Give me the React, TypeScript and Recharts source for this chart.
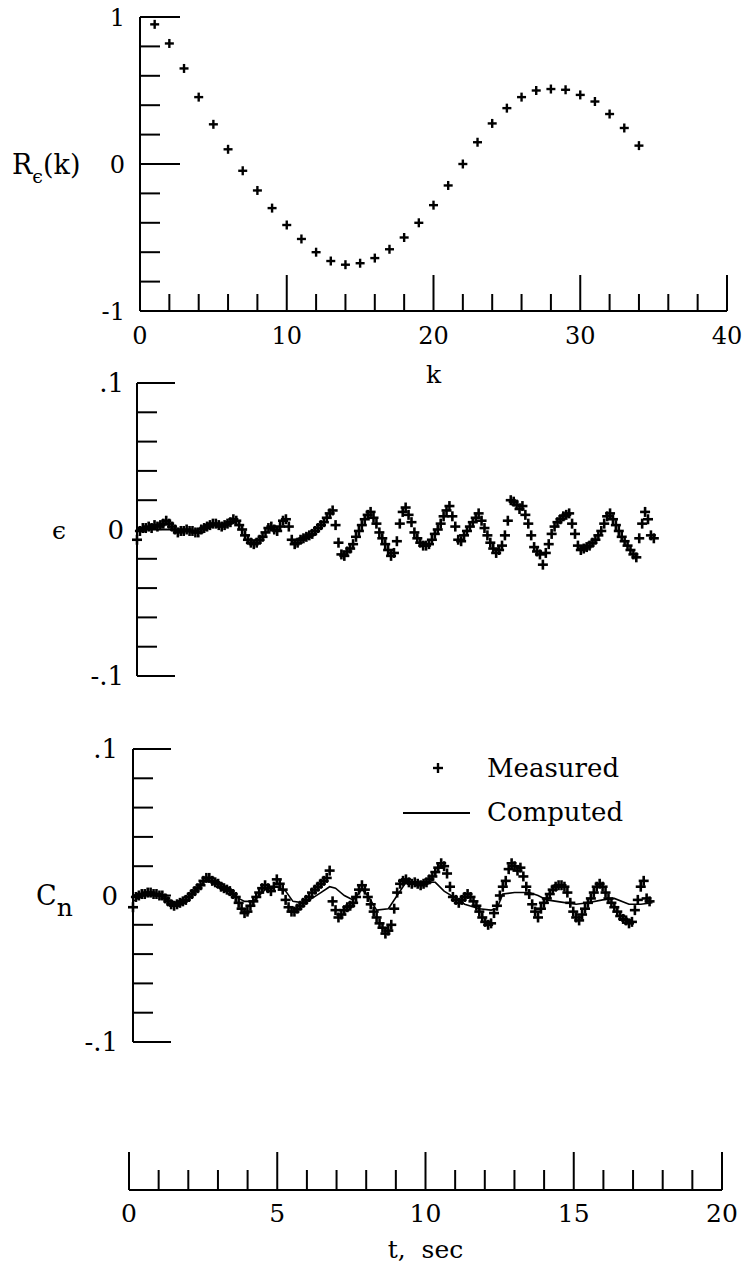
import React from 'react';
import { ScatterChart, Scatter, XAxis, YAxis, Label } from 'recharts';

const FONT = '"DejaVu Serif", "Liberation Serif", serif';

// ---- top panel: autocorrelation of residuals ----
const kValues = [1, 2, 3, 4, 5, 6, 7, 8, 9, 10, 11, 12, 13, 14, 15, 16, 17, 18, 19, 20, 21, 22, 23, 24, 25, 26, 27, 28, 29, 30, 31, 32, 33, 34];
const rValues = [0.95, 0.82, 0.65, 0.455, 0.27, 0.1, -0.046, -0.18, -0.3, -0.415, -0.51, -0.6, -0.66, -0.685, -0.675, -0.64, -0.58, -0.5, -0.4, -0.28, -0.146, 0.0, 0.148, 0.276, 0.38, 0.455, 0.5, 0.51, 0.505, 0.47, 0.425, 0.34, 0.245, 0.125];
const rTicks = [-1, -0.8, -0.6, -0.4, -0.2, 0, 0.2, 0.4, 0.6, 0.8, 1];
const kTicks = [0, 2, 4, 6, 8, 10, 12, 14, 16, 18, 20, 22, 24, 26, 28, 30, 32, 34, 36, 38, 40];
const kLabels = [0, 10, 20, 30, 40];

// ---- time series (sampled every 0.1 s) ----
const SAMPLE_DT = 0.1;
const epsValues = [
  -0.007, -0.001, 0.001, 0.001, 0.002, 0.001, 0.003, 0.002, 0.003, 0.004,
  0.006, 0.004, 0.002, 0.0, -0.002, -0.001, -0.001, 0.0, -0.001, -0.001,
  -0.002, -0.002, 0.0, 0.001, 0.002, 0.003, 0.004, 0.004, 0.003, 0.002,
  0.003, 0.004, 0.005, 0.007, 0.006, 0.003, 0.0, -0.004, -0.007, -0.009,
  -0.01, -0.009, -0.007, -0.005, -0.002, 0.001, 0.002, 0.0, -0.001, 0.002,
  0.006, 0.007, 0.002, -0.007, -0.01, -0.009, -0.007, -0.006, -0.005, -0.004,
  -0.003, -0.001, 0.001, 0.003, 0.005, 0.008, 0.011, 0.013, 0.003, -0.009,
  -0.017, -0.018, -0.015, -0.013, -0.01, -0.005, -0.001, 0.003, 0.007, 0.01,
  0.012, 0.008, 0.004, -0.002, -0.006, -0.01, -0.014, -0.018, -0.016, -0.008,
  0.004, 0.012, 0.015, 0.01, 0.005, -0.002, -0.006, -0.009, -0.011, -0.011,
  -0.01, -0.007, -0.003, 0.0, 0.004, 0.009, 0.013, 0.016, 0.009, 0.002,
  -0.007, -0.008, -0.004, -0.001, 0.002, 0.005, 0.008, 0.011, 0.006, 0.001,
  -0.004, -0.009, -0.013, -0.016, -0.014, -0.011, -0.004, 0.006, 0.02, 0.019,
  0.017, 0.014, 0.016, 0.01, 0.004, -0.004, -0.012, -0.015, -0.017, -0.024,
  -0.016, -0.01, -0.003, 0.002, 0.005, 0.007, 0.009, 0.01, 0.011, 0.004,
  -0.003, -0.011, -0.014, -0.013, -0.012, -0.011, -0.009, -0.007, -0.004, -0.001,
  0.004, 0.009, 0.011, 0.007, 0.003, -0.001, -0.005, -0.008, -0.011, -0.014,
  -0.017, -0.019, -0.006, 0.004, 0.012, 0.007, -0.004, -0.006
];
const cnMeasured = [
  -0.008, -0.001, 0.0, 0.001, 0.001, 0.002, 0.002, 0.001, 0.001, 0.0,
  0.0, -0.002, -0.004, -0.006, -0.007, -0.006, -0.005, -0.004, -0.003, -0.001,
  0.001, 0.003, 0.005, 0.007, 0.01, 0.012, 0.012, 0.01, 0.009, 0.008,
  0.006, 0.005, 0.004, 0.003, 0.001, -0.001, -0.005, -0.009, -0.012, -0.011,
  -0.007, -0.004, -0.001, 0.002, 0.005, 0.007, 0.005, 0.003, 0.006, 0.011,
  0.008, 0.004, -0.003, -0.008, -0.011, -0.011, -0.009, -0.007, -0.005, -0.003,
  -0.001, 0.002, 0.004, 0.006, 0.008, 0.01, 0.012, 0.017, -0.004, -0.01,
  -0.015, -0.013, -0.01, -0.008, -0.007, -0.005, -0.001, 0.004, 0.007, 0.004,
  -0.001, -0.006, -0.011, -0.015, -0.019, -0.022, -0.026, -0.024, -0.02, -0.009,
  0.002, 0.008, 0.01, 0.011, 0.009, 0.008, 0.009, 0.008, 0.007, 0.008,
  0.009, 0.011, 0.013, 0.016, 0.019, 0.022, 0.02, 0.015, 0.006, -0.001,
  -0.003, -0.005, -0.003, -0.001, 0.001, -0.001, -0.004, -0.007, -0.011, -0.015,
  -0.018, -0.02, -0.019, -0.012, -0.007, 0.0, 0.006, 0.01, 0.018, 0.022,
  0.02, 0.017, 0.019, 0.013, 0.006, 0.001, -0.006, -0.011, -0.015, -0.009,
  -0.005, -0.002, 0.001, 0.004, 0.006, 0.007, 0.007, 0.006, 0.002, -0.005,
  -0.011, -0.015, -0.017, -0.013, -0.009, -0.005, -0.002, 0.002, 0.006, 0.008,
  0.006, 0.002, -0.002, -0.005, -0.008, -0.011, -0.014, -0.016, -0.017, -0.019,
  -0.018, -0.01, -0.003, 0.006, 0.01, -0.002, -0.004
];
const cnComputedT = [0, 0.5, 1.0, 1.3, 1.7, 2.1, 2.5, 2.9, 3.3, 3.6, 3.8, 4.1, 4.5, 4.9, 5.2, 5.45, 5.8, 6.1, 6.4, 6.7, 6.9, 7.2, 7.5, 7.8, 8.0, 8.3, 8.7, 9.0, 9.3, 9.7, 10.0, 10.3, 10.6, 11.0, 11.3, 11.8, 12.2, 12.4, 12.6, 13.0, 13.5, 13.8, 14.1, 14.6, 15.1, 15.5, 16.0, 16.4, 16.9, 17.3, 17.7];
const cnComputedV = [-0.004, 0.002, 0.0, -0.005, -0.004, 0.003, 0.011, 0.008, 0.003, -0.002, -0.004, -0.004, 0.004, 0.006, 0.003, -0.004, -0.005, -0.002, 0.002, 0.006, 0.005, 0.0, -0.003, 0.004, 0.0, -0.01, -0.009, 0.0, 0.009, 0.009, 0.009, 0.009, 0.003, -0.002, -0.006, -0.009, -0.01, -0.009, 0.001, 0.002, 0.002, 0.0, -0.003, -0.0045, -0.006, -0.005, -0.003, -0.002, -0.006, -0.006, -0.005];
const smallTicks = [-0.1, -0.08, -0.06, -0.04, -0.02, 0, 0.02, 0.04, 0.06, 0.08, 0.1];
const tTicks = [0, 1, 2, 3, 4, 5, 6, 7, 8, 9, 10, 11, 12, 13, 14, 15, 16, 17, 18, 19, 20];
const tLabels = [0, 5, 10, 15, 20];

const rData = kValues.map((k, i) => ({ x: k, y: rValues[i] }));
const epsData = epsValues.map((v, i) => ({ x: i * SAMPLE_DT, y: v }));
const cnMeasData = cnMeasured.map((v, i) => ({ x: i * SAMPLE_DT, y: v }));
const cnCompData = cnComputedT.map((t, i) => ({ x: t, y: cnComputedV[i] }));
const tAxisAnchor = tLabels.map((t) => ({ x: t, y: 0 }));

const near = (a: number, b: number) => Math.abs(a - b) < 1e-9;

const makePlus = (h: number, sw: number) => (props: any) => {
  const { cx, cy } = props;
  if (cx == null || cy == null) return null;
  return (
    <g stroke="#000" strokeWidth={sw}>
      <line x1={cx - h} y1={cy} x2={cx + h} y2={cy} />
      <line x1={cx} y1={cy - h} x2={cx} y2={cy + h} />
    </g>
  );
};
const Plus = makePlus(4.5, 2.4);
const DensePlus = makePlus(5, 2.6);
const NoDot = () => null;

function makeYTick(labelFor: (v: number) => string, isLong: (v: number) => boolean, longLen: number, shortLen: number, fontSize: number, gap: number) {
  return (props: any) => {
    const { x, y, payload } = props;
    const v = payload.value;
    const len = isLong(v) ? longLen : shortLen;
    const lab = labelFor(v);
    return (
      <g>
        <line x1={x} y1={y} x2={x + len} y2={y} stroke="#000" strokeWidth={2} />
        {lab ? (
          <text x={x - gap} y={y} dy="0.36em" textAnchor="end" fontFamily={FONT} fontSize={fontSize} fill="#000">{lab}</text>
        ) : null}
      </g>
    );
  };
}

function makeXTick(labelSet: number[], isLong: (v: number) => boolean, longLen: number, shortLen: number, fontSize: number, labelDy: number, skipZeroLine: boolean) {
  return (props: any) => {
    const { x, y, payload } = props;
    const v = payload.value;
    const len = isLong(v) ? longLen : shortLen;
    const showLine = !(skipZeroLine && v === 0);
    const lab = labelSet.indexOf(v) >= 0 ? String(v) : '';
    return (
      <g>
        {showLine ? <line x1={x} y1={y} x2={x} y2={y - len} stroke="#000" strokeWidth={2} /> : null}
        {lab ? (
          <text x={x} y={y + labelDy} dy="0.36em" textAnchor="middle" fontFamily={FONT} fontSize={fontSize} fill="#000">{lab}</text>
        ) : null}
      </g>
    );
  };
}

const rTick = makeYTick(
  (v) => (near(v, 1) ? '1' : near(v, 0) ? '0' : near(v, -1) ? '-1' : ''),
  (v) => near(v, 1) || near(v, 0),
  40, 20, 24, 15
);
const kTick = makeXTick(kLabels, (v) => v % 10 === 0, 36, 17, 24, 24, true);
const smallTickFactory = (gap: number) => makeYTick(
  (v) => (near(v, 0.1) ? '.1' : near(v, 0) ? '0' : near(v, -0.1) ? '-.1' : ''),
  (v) => near(v, 0.1) || near(v, -0.1) || near(v, 0),
  38, 20, 26, gap
);
const epsTick = smallTickFactory(13);
const cnTick = smallTickFactory(15);
const tTick = makeXTick(tLabels, (v) => v % 5 === 0, 38, 20, 25, 23, false);

const axisLine = { stroke: '#000', strokeWidth: 2 };

export default function App() {
  return (
    <div style={{ position: 'absolute', left: 0, top: 0, width: 749, height: 1270, background: '#fff', overflow: 'hidden' }}>
      {/* Top panel */}
      <div style={{ position: 'absolute', left: 0, top: 0 }}>
        <ScatterChart width={749} height={391} margin={{ top: 17, right: 22, bottom: 0, left: 0 }}>
          <XAxis type="number" dataKey="x" domain={[0, 40]} ticks={kTicks} interval={0} height={80}
            tickSize={0} tickMargin={0} tickLine={false} axisLine={axisLine} tick={kTick}>
            <Label value="k" position="insideBottom" offset={8} fontFamily={FONT} fontSize={25} fill="#000" />
          </XAxis>
          <YAxis type="number" dataKey="y" domain={[-1, 1]} ticks={rTicks} interval={0} width={140}
            tickSize={0} tickMargin={0} tickLine={false} axisLine={axisLine} tick={rTick}>
            <Label content={(p: any) => {
              const vb = p.viewBox || { x: 0, y: 17, height: 294 };
              const cy = vb.y + vb.height / 2;
              return (
                <text x={vb.x + 12} y={cy} dy="0.36em" fontFamily={FONT} fontSize={27} fill="#000">
                  R<tspan dy={9} fontSize={19}>ϵ</tspan><tspan dy={-9}>(k)</tspan>
                </text>
              );
            }} />
          </YAxis>
          <Scatter data={rData} shape={Plus} isAnimationActive={false} />
        </ScatterChart>
      </div>

      {/* Epsilon panel */}
      <div style={{ position: 'absolute', left: 0, top: 360 }}>
        <ScatterChart width={749} height={340} margin={{ top: 23, right: 28, bottom: 24, left: 0 }}>
          <XAxis type="number" dataKey="x" domain={[0, 20]} hide />
          <YAxis type="number" dataKey="y" domain={[-0.1, 0.1]} ticks={smallTicks} interval={0} width={137}
            tickSize={0} tickMargin={0} tickLine={false} axisLine={axisLine} tick={epsTick}>
            <Label content={(p: any) => {
              const vb = p.viewBox || { x: 0, y: 23, height: 293 };
              const cy = vb.y + vb.height / 2;
              return <text x={vb.x + 52} y={cy} dy="0.36em" fontFamily={FONT} fontSize={25} fill="#000">ϵ</text>;
            }} />
          </YAxis>
          <Scatter data={epsData} shape={DensePlus} isAnimationActive={false} />
        </ScatterChart>
      </div>

      {/* Cn panel */}
      <div style={{ position: 'absolute', left: 0, top: 720 }}>
        <ScatterChart width={749} height={350} margin={{ top: 29, right: 29, bottom: 28, left: 0 }}>
          <XAxis type="number" dataKey="x" domain={[0, 20]} hide />
          <YAxis type="number" dataKey="y" domain={[-0.1, 0.1]} ticks={smallTicks} interval={0} width={133}
            tickSize={0} tickMargin={0} tickLine={false} axisLine={axisLine} tick={cnTick}>
            <Label content={(p: any) => {
              const vb = p.viewBox || { x: 0, y: 29, height: 293 };
              const cy = vb.y + vb.height / 2;
              return (
                <text x={vb.x + 36} y={cy} dy="0.36em" fontFamily={FONT} fontSize={27} fill="#000">
                  C<tspan dy={11} fontSize={25}>n</tspan>
                </text>
              );
            }} />
          </YAxis>
          <Scatter data={cnCompData} shape={NoDot} line={{ stroke: '#000', strokeWidth: 1.6 }} isAnimationActive={false} />
          <Scatter data={cnMeasData} shape={DensePlus} isAnimationActive={false} />
        </ScatterChart>
      </div>

      {/* Legend */}
      <svg style={{ position: 'absolute', left: 395, top: 740 }} width={280} height={100}>
        <g stroke="#000" strokeWidth={2.4}>
          <line x1={38} y1={28} x2={48} y2={28} />
          <line x1={43} y1={23} x2={43} y2={33} />
        </g>
        <text x={92} y={28} dy="0.36em" fontFamily={FONT} fontSize={26} fill="#000">Measured</text>
        <line x1={8} y1={73} x2={75} y2={73} stroke="#000" strokeWidth={2} />
        <text x={92} y={72} dy="0.36em" fontFamily={FONT} fontSize={26} fill="#000">Computed</text>
      </svg>

      {/* Time axis */}
      <div style={{ position: 'absolute', left: 0, top: 1100 }}>
        <ScatterChart width={749} height={170} margin={{ top: 10, right: 27, bottom: 0, left: 129 }}>
          <XAxis type="number" dataKey="x" domain={[0, 20]} ticks={tTicks} interval={0} height={80}
            tickSize={0} tickMargin={0} tickLine={false} axisLine={axisLine} tick={tTick}>
            <Label value={'t,\u00a0\u00a0sec'} position="insideBottom" offset={12} fontFamily={FONT} fontSize={25} fill="#000" />
          </XAxis>
          <YAxis type="number" dataKey="y" domain={[0, 1]} hide />
          <Scatter data={tAxisAnchor} shape={NoDot} isAnimationActive={false} />
        </ScatterChart>
      </div>
    </div>
  );
}
